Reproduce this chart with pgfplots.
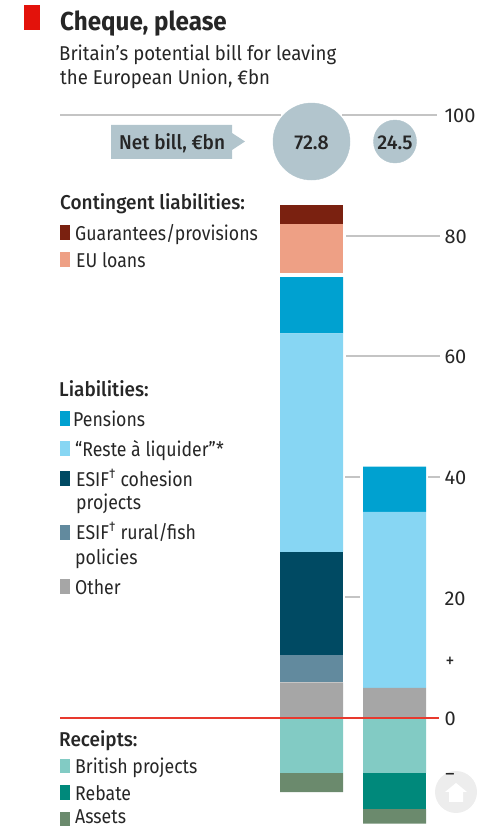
\documentclass[border=0pt]{standalone}
\usepackage{pgfplots}
\pgfplotsset{compat=1.18}
\usepackage{fontspec}
\setmainfont[FakeStretch=0.885]{Fira Sans}
\newfontfamily\medfont[FakeStretch=0.95]{Fira Sans Medium}
\newfontfamily\subfont[FakeStretch=0.93]{Fira Sans}
\newfontfamily\numfont{Fira Sans}
\newfontfamily\bubfont[FakeStretch=0.98]{Fira Sans Medium}
\newfontfamily\titlefont[FakeStretch=0.93]{Fira Sans Bold}
\definecolor{cguar}{HTML}{7A2110}
\definecolor{cloan}{HTML}{EEA085}
\definecolor{cpens}{HTML}{00A1D0}
\definecolor{crest}{HTML}{87D6F3}
\definecolor{ccoh}{HTML}{004A63}
\definecolor{crur}{HTML}{628A9E}
\definecolor{coth}{HTML}{A6A6A6}
\definecolor{cbrit}{HTML}{82CBC4}
\definecolor{creb}{HTML}{00897B}
\definecolor{cass}{HTML}{6B8A6D}
\definecolor{cbox}{HTML}{B2C5CD}
\definecolor{cgrid}{HTML}{C4C4C4}
\definecolor{cred}{HTML}{E8392E}
\definecolor{csq}{HTML}{E3120B}
\definecolor{ctxt}{HTML}{262626}
\newcommand{\T}[4][\normalfont]{\node[anchor=base west,inner sep=0pt,text=ctxt,font=#1] at (#2pt,{827pt-#3pt-1.5pt}) {#4};}
\newcommand{\K}[3]{\fill[#1] (60pt,{827pt-#2pt}) rectangle (69.5pt,{827pt-#3pt});}
\pgfplotsset{base/.style={
  at={(0,0)},anchor=south west,
  scale only axis,width=440pt,height=827pt,
  xmin=0,xmax=440,ymin=-18.08,ymax=119.07,
  clip=false,
}}
\begin{document}
\begin{tikzpicture}[x=1pt,y=1pt]
\useasboundingbox (0,0) rectangle (495pt,827pt);
% grid and tick labels
\begin{axis}[base,
  hide x axis,
  axis y line*=right,
  axis line style={draw=none},
  ytick={0,20,40,60,80,100},
  major tick length=0pt,
  /pgf/number format/assume math mode=true,
  yticklabel style={anchor=west,font=\fontsize{20}{20}\numfont,text=ctxt,xshift=1pt,yshift=-1pt},
]
\addplot[no marks,draw=cgrid,line width=2pt] coordinates {(60,100) (281,100)};
\addplot[no marks,draw=cgrid,line width=2pt] coordinates {(342,100) (437,100)};
\addplot[no marks,draw=cgrid,line width=2pt] coordinates {(346,80) (440,80)};
\addplot[no marks,draw=cgrid,line width=2pt] coordinates {(346,60) (440,60)};
\addplot[no marks,draw=cgrid,line width=2pt] coordinates {(345,40) (360,40)};
\addplot[no marks,draw=cgrid,line width=2pt] coordinates {(428,40) (440,40)};
\addplot[no marks,draw=cgrid,line width=2pt] coordinates {(345,20) (360,20)};
\end{axis}
% positive stack
\begin{axis}[base,hide axis,ybar stacked,bar width=63pt]
\addplot[fill=coth,draw=none] coordinates {(311.5,5.9) (394.5,5.0)};
\addplot[fill=crur,draw=none] coordinates {(311.5,4.5) (394.5,0)};
\addplot[fill=ccoh,draw=none] coordinates {(311.5,17.1) (394.5,0)};
\addplot[fill=crest,draw=none] coordinates {(311.5,36.3) (394.5,29.2)};
\addplot[fill=cpens,draw=none] coordinates {(311.5,9.3) (394.5,7.5)};
\addplot[fill=white,draw=none] coordinates {(311.5,0.7) (394.5,0)};
\addplot[fill=cloan,draw=none] coordinates {(311.5,8.1) (394.5,0)};
\addplot[fill=cguar,draw=none] coordinates {(311.5,3.2) (394.5,0)};
\end{axis}
% negative stack
\begin{axis}[base,hide axis,ybar stacked,bar width=63pt]
\addplot[fill=cbrit,draw=none] coordinates {(311.5,-9.1) (394.5,-9.1)};
\addplot[fill=creb,draw=none] coordinates {(311.5,0) (394.5,-6.0)};
\addplot[fill=cass,draw=none] coordinates {(311.5,-3.2) (394.5,-2.4)};
\end{axis}
% zero line and bubbles
\begin{axis}[base,hide axis]
\addplot[no marks,draw=cred,line width=1.2pt] coordinates {(60,0) (439,0)};
\addplot[only marks,mark=*,mark size=38.5pt,draw=cbox,fill=cbox,mark options={fill=cbox,draw=cbox}] coordinates {(311.5,95.6)};
\addplot[only marks,mark=*,mark size=21.5pt,draw=cbox,fill=cbox,mark options={fill=cbox,draw=cbox}] coordinates {(395,95.6)};
\end{axis}
% home button
\fill[black!7] (456pt,{827pt-792pt}) circle (21pt);
\fill[white] (445pt,{827pt-792pt}) -- (456pt,{827pt-783pt}) -- (467pt,{827pt-792pt}) -- (463pt,{827pt-792pt}) -- (463pt,{827pt-802pt}) -- (449pt,{827pt-802pt}) -- (449pt,{827pt-792pt}) -- cycle;
% net bill callout
\fill[cbox] (111pt,{827pt-125pt}) -- (232pt,{827pt-125pt}) -- (232pt,{827pt-133pt}) -- (245pt,{827pt-141.5pt}) -- (232pt,{827pt-150pt}) -- (232pt,{827pt-159pt}) -- (111pt,{827pt-159pt}) -- cycle;
\fill[csq] (24pt,{827pt-5pt}) rectangle (39.5pt,{827pt-30pt});
% keys
\K{cguar}{225}{240}\K{cloan}{252}{267}
\K{cpens}{411}{426}\K{crest}{441}{456}\K{ccoh}{471}{486}\K{crur}{525}{540}\K{coth}{579}{594}
\K{cbrit}{759}{773}\K{creb}{785}{800}\K{cass}{812}{826}
% text
\def\ts{\fontsize{20}{20}\selectfont}
\def\tm{\fontsize{20}{20}\medfont}
\def\tsub{\fontsize{20}{20}\subfont}
\def\tn{\fontsize{20}{20}\bubfont}
\T[\fontsize{26}{26}\titlefont]{60}{29}{Cheque, please}
\T[\tsub]{59}{59}{Britain’s potential bill for leaving}
\T[\tsub]{60}{83}{the European Union, €bn}
\T[\tm]{119}{148}{Net bill, €bn}
\node[text=ctxt,font=\tn] at (311.5pt,{827pt-142.5pt}) {72.8};
\node[text=ctxt,font=\tn] at (395pt,{827pt-142.5pt}) {24.5};
\T[\tm]{60}{208}{Contingent liabilities:}
\T[\ts]{75}{239}{Guarantees/provisions}
\T[\ts]{76}{266}{EU loans}
\T[\tm]{59}{395}{Liabilities:}
\T[\ts]{73}{425}{Pensions}
\T[\ts]{75}{455}{“Reste à liquider”*}
\T[\ts]{76}{485}{ESIF\textsuperscript{†} cohesion}
\T[\ts]{76}{508}{projects}
\T[\ts]{76}{538}{ESIF\textsuperscript{†} rural/fish}
\T[\ts]{75}{563}{policies}
\T[\ts]{75}{593}{Other}
\T[\tm]{59}{745}{Receipts:}
\T[\ts]{75}{772}{British projects}
\T[\ts]{75}{799}{Rebate}
\T[\ts]{75}{821.5}{Assets}
\node[text=ctxt,font=\ts] at (450pt,{827pt-662pt}) {+};
\node[text=ctxt,font=\ts] at (450pt,{827pt-777pt}) {–};
\end{tikzpicture}
\end{document}
